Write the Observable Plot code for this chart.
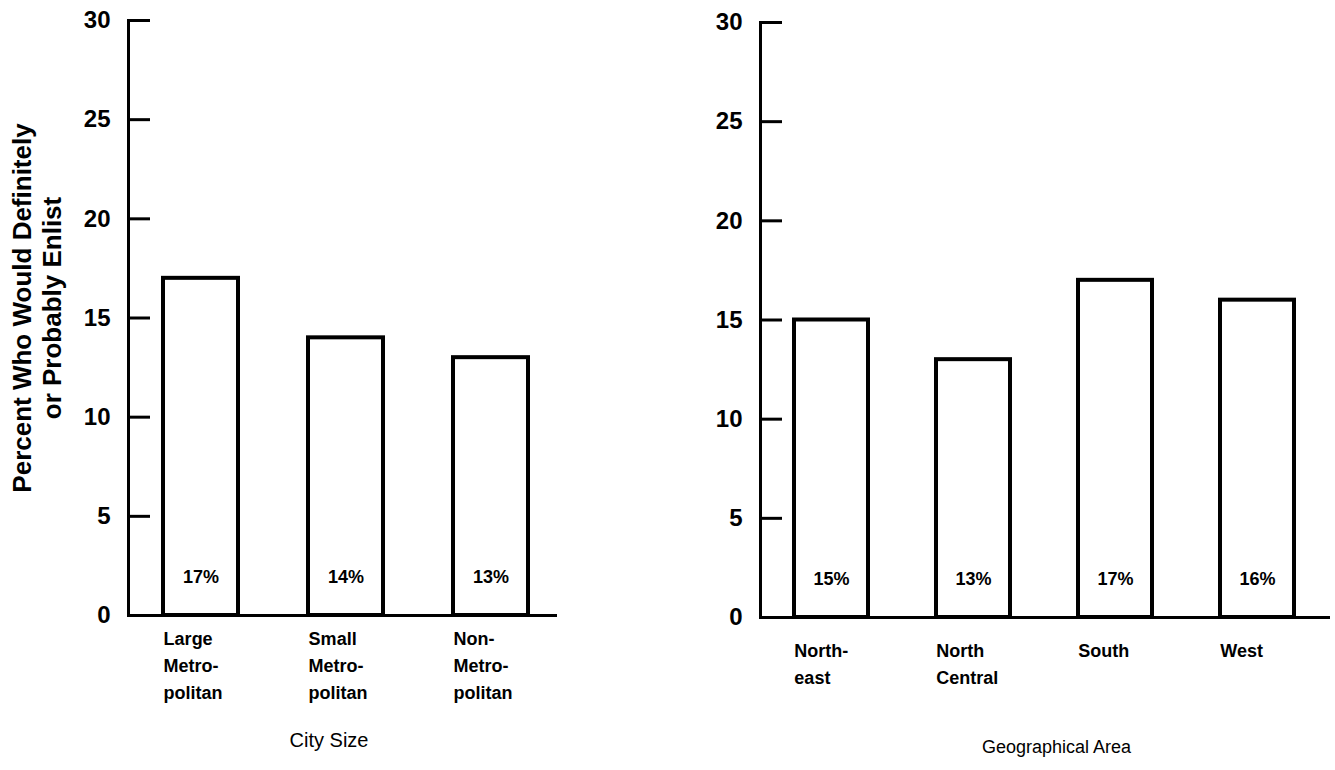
<!DOCTYPE html>
<html><head><meta charset="utf-8">
<script src="https://cdn.jsdelivr.net/npm/d3@7"></script>
<script src="https://cdn.jsdelivr.net/npm/@observablehq/plot@0.6"></script>
<style>
body{margin:0;background:#fff;width:1335px;height:770px;overflow:hidden;position:relative;font-family:"Liberation Sans",Arial,sans-serif;}
#left{position:absolute;left:0;top:0;}
#right{position:absolute;left:620px;top:0;}
</style></head><body>
<div id="left"></div><div id="right"></div>
<script>
// ---- data ----
const citySizes = ["Large\nMetro-\npolitan", "Small\nMetro-\npolitan", "Non-\nMetro-\npolitan"];
const cityValues = [17, 14, 13];
const areas = ["North-\neast", "North\nCentral", "South", "West"];
const areaValues = [15, 13, 17, 16];
const yTicks = [0, 5, 10, 15, 20, 25, 30];
const yDomain = [0, 30];
const yTitle = "Percent Who Would Definitely\nor Probably Enlist";
const cityTitle = "City Size";
const areaTitle = "Geographical Area";

function panel(o) {
  const data = o.cats.map((c, i) => ({cat: c, value: o.vals[i]}));
  const n = o.cats.length;
  const range = o.width - o.marginLeft - o.marginRight;
  const step = range / (n - o.pi + 2 * o.po);
  const bw = step * (1 - o.pi);
  const marks = [
    Plot.barY(data, {x: "cat", y: "value", fill: "white", stroke: "black", strokeWidth: 4}),
    Plot.text(data, {x: "cat", y: 0, text: d => d.value + "%", dy: o.pctDy, fontSize: 18, fontWeight: "bold"}),
    Plot.axisY({ticks: yTicks, tickSize: -22, tickPadding: 40, strokeWidth: 3, fontSize: 24, fontWeight: "bold", label: null}),
    Plot.axisX({tickSize: 0, tickPadding: o.labelPad, textAnchor: "start", dx: -bw / 2, fontSize: 18, fontWeight: "bold", lineHeight: 1.5, label: null}),
    Plot.frame({anchor: "left", strokeWidth: 3}),
    Plot.ruleY([0], {strokeWidth: 3}),
    Plot.text([o.title], {frameAnchor: "bottom", dx: o.titleDx, dy: o.titleDy, fontSize: o.titleSize})
  ];
  if (o.yTitle) marks.push(Plot.text([o.yTitle], {frameAnchor: "left", textAnchor: "middle", rotate: -90, dx: -92, dy: -10, fontSize: 26, fontWeight: "bold", lineHeight: 1.15}));
  return Plot.plot({
    width: o.width, height: 770,
    marginLeft: o.marginLeft, marginRight: o.marginRight, marginTop: o.marginTop, marginBottom: o.marginBottom,
    style: {fontFamily: "'Liberation Sans', Arial, sans-serif", color: "black", background: "white", overflow: "visible"},
    x: {domain: o.cats, paddingInner: o.pi, paddingOuter: o.po, align: o.align},
    y: {domain: yDomain},
    marks
  });
}

document.getElementById("left").append(panel({
  cats: citySizes, vals: cityValues, title: cityTitle, yTitle,
  width: 620, marginLeft: 128, marginRight: 63, marginTop: 20, marginBottom: 155,
  pi: 0.485, po: 0.22, align: 0.55, labelPad: 10, titleDx: -14, titleDy: 131, titleSize: 20, pctDy: -38
}));
document.getElementById("right").append(panel({
  cats: areas, vals: areaValues, title: areaTitle, yTitle: null,
  width: 715, marginLeft: 140, marginRight: 5, marginTop: 22, marginBottom: 153,
  pi: 0.48, po: 0.235, align: 0.48, labelPad: 20, titleDx: 11, titleDy: 135, titleSize: 18, pctDy: -38
}));
</script>
</body></html>
